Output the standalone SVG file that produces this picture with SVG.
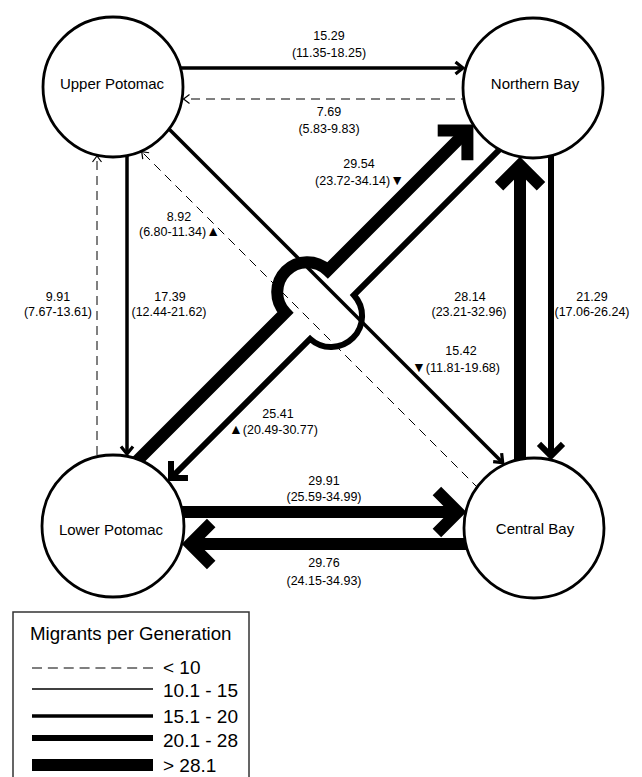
<svg xmlns="http://www.w3.org/2000/svg" width="642" height="777" viewBox="0 0 642 777">
<style>
text { font-family: "Liberation Sans", Arial, sans-serif; fill: #000; }
.node circle { fill: #fff; stroke: #000; stroke-width: 2.8; }
.node text { font-size: 15px; text-anchor: middle; }
.lbl text { font-size: 12.5px; text-anchor: middle; }
.lbl text.s { text-anchor: start; }
.lbl text.r { text-anchor: end; }
.tri { font-size: 14px; }
.e { fill: none; stroke: #000; stroke-linejoin: miter; }
.d { stroke-width: 1; stroke-dasharray: 9 6; }
.w3 { stroke-width: 3.5; }
.w6 { stroke-width: 6; }
.w12 { stroke-width: 12; }
.leg text { font-size: 19px; }
.leg .t { font-size: 18.7px; }
</style>
<defs>
<marker id="mD" markerUnits="userSpaceOnUse" viewBox="-10 -10 20 20" markerWidth="20" markerHeight="20" refX="0" refY="0" orient="auto" overflow="visible"><path d="M-6,-4.5 L0,0 L-6,4.5" fill="none" stroke="#000" stroke-width="1.2"/></marker>
<marker id="m3" markerUnits="userSpaceOnUse" viewBox="-15 -15 30 30" markerWidth="30" markerHeight="30" refX="0" refY="0" orient="auto" overflow="visible"><path d="M-7.5,-6 L0,0 L-7.5,6" fill="none" stroke="#000" stroke-width="3.2"/></marker>
<marker id="m6" markerUnits="userSpaceOnUse" viewBox="-20 -20 40 40" markerWidth="40" markerHeight="40" refX="0" refY="0" orient="auto" overflow="visible"><path d="M-12,-12 L0,0 L-12,12" fill="none" stroke="#000" stroke-width="6"/></marker>
<marker id="m12" markerUnits="userSpaceOnUse" viewBox="-30 -30 60 60" markerWidth="60" markerHeight="60" refX="0" refY="0" orient="auto" overflow="visible"><path d="M-21,-21 L0,0 L-21,21" fill="none" stroke="#000" stroke-width="12"/></marker>
</defs>

<g id="connectors">
<line class="e w3" x1="150" y1="68" x2="463" y2="68" marker-end="url(#m3)"/>
<line class="e d" x1="500" y1="99" x2="183.5" y2="99" marker-end="url(#mD)"/>
<line class="e w3" x1="127" y1="120" x2="127" y2="454" marker-end="url(#m3)"/>
<line class="e d" x1="97" y1="500" x2="97" y2="156" marker-end="url(#mD)"/>
<line class="e w6" x1="551" y1="120" x2="551" y2="455.9" marker-end="url(#m6)"/>
<line class="e w12" x1="520" y1="500" x2="520" y2="165.3" marker-end="url(#m12)"/>
<path class="e w12" d="M130,468 L285.3,312.7 A30,30 0 0 1 327.7,270.3 L467.4,130.6" marker-end="url(#m12)"/>
<path class="e w6" d="M520,129 L353.9,295.1 A31,31 0 0 1 310.1,338.9 L171,478" marker-end="url(#m6)"/>
<line class="e w3" x1="150" y1="110" x2="502.7" y2="462.7" marker-end="url(#m3)"/>
<line class="e d" x1="500" y1="510" x2="141.7" y2="151.7" marker-end="url(#mD)"/>
<line class="e w12" x1="113" y1="512" x2="457.9" y2="512" marker-end="url(#m12)"/>
<line class="e w12" x1="534" y1="544" x2="190.2" y2="544" marker-end="url(#m12)"/>
</g>

<g id="edge-labels" class="lbl">
<text x="329" y="39.5">15.29</text>
<text x="329" y="57">(11.35-18.25)</text>
<text x="329" y="116">7.69</text>
<text x="329" y="133">(5.83-9.83)</text>
<text x="359" y="168">29.54</text>
<text class="r" x="404" y="185">(23.72-34.14)<tspan class="tri">▼</tspan></text>
<text x="179" y="221">8.92</text>
<text class="r" x="220" y="236">(6.80-11.34)<tspan class="tri">▲</tspan></text>
<text x="58" y="301">9.91</text>
<text x="58" y="316">(7.67-13.61)</text>
<text x="170" y="301">17.39</text>
<text x="169" y="316">(12.44-21.62)</text>
<text x="470" y="301">28.14</text>
<text x="469" y="316">(23.21-32.96)</text>
<text x="592" y="301">21.29</text>
<text x="592" y="316">(17.06-26.24)</text>
<text x="461" y="354.5">15.42</text>
<text class="s" x="412" y="372"><tspan class="tri">▼</tspan>(11.81-19.68)</text>
<text x="278" y="418">25.41</text>
<text class="s" x="229" y="433.5"><tspan class="tri">▲</tspan>(20.49-30.77)</text>
<text x="324" y="484.5">29.91</text>
<text x="324" y="500.5">(25.59-34.99)</text>
<text x="324" y="567">29.76</text>
<text x="324" y="584.5">(24.15-34.93)</text>
</g>

<g id="upper-potomac" class="node">
<circle cx="113" cy="87" r="70"/>
<text x="112" y="88.5">Upper Potomac</text>
</g>
<g id="northern-bay" class="node">
<circle cx="533" cy="88" r="70"/>
<text x="535" y="88.5">Northern Bay</text>
</g>
<g id="lower-potomac" class="node">
<circle cx="113" cy="526" r="71"/>
<text x="111" y="534.5">Lower Potomac</text>
</g>
<g id="central-bay" class="node">
<circle cx="534" cy="528" r="70"/>
<text x="535" y="533.5">Central Bay</text>
</g>

<g id="legend" class="leg">
<rect x="13" y="612" width="236" height="180" fill="none" stroke="#333" stroke-width="1.5"/>
<text class="t" x="30" y="640">Migrants per Generation</text>
<line x1="32" y1="668" x2="153" y2="668" stroke="#000" stroke-width="1.2" stroke-dasharray="10 5.86"/>
<line x1="32" y1="689" x2="153" y2="689" stroke="#000" stroke-width="1.5"/>
<line x1="32" y1="716" x2="153" y2="716" stroke="#000" stroke-width="3.5"/>
<line x1="32" y1="738" x2="153" y2="738" stroke="#000" stroke-width="6"/>
<line x1="32" y1="765" x2="153" y2="765" stroke="#000" stroke-width="12"/>
<text x="163" y="674">&lt; 10</text>
<text x="163" y="697">10.1 - 15</text>
<text x="163" y="722.5">15.1 - 20</text>
<text x="163" y="746.5">20.1 - 28</text>
<text x="163" y="771.5">&gt; 28.1</text>
</g>
</svg>
